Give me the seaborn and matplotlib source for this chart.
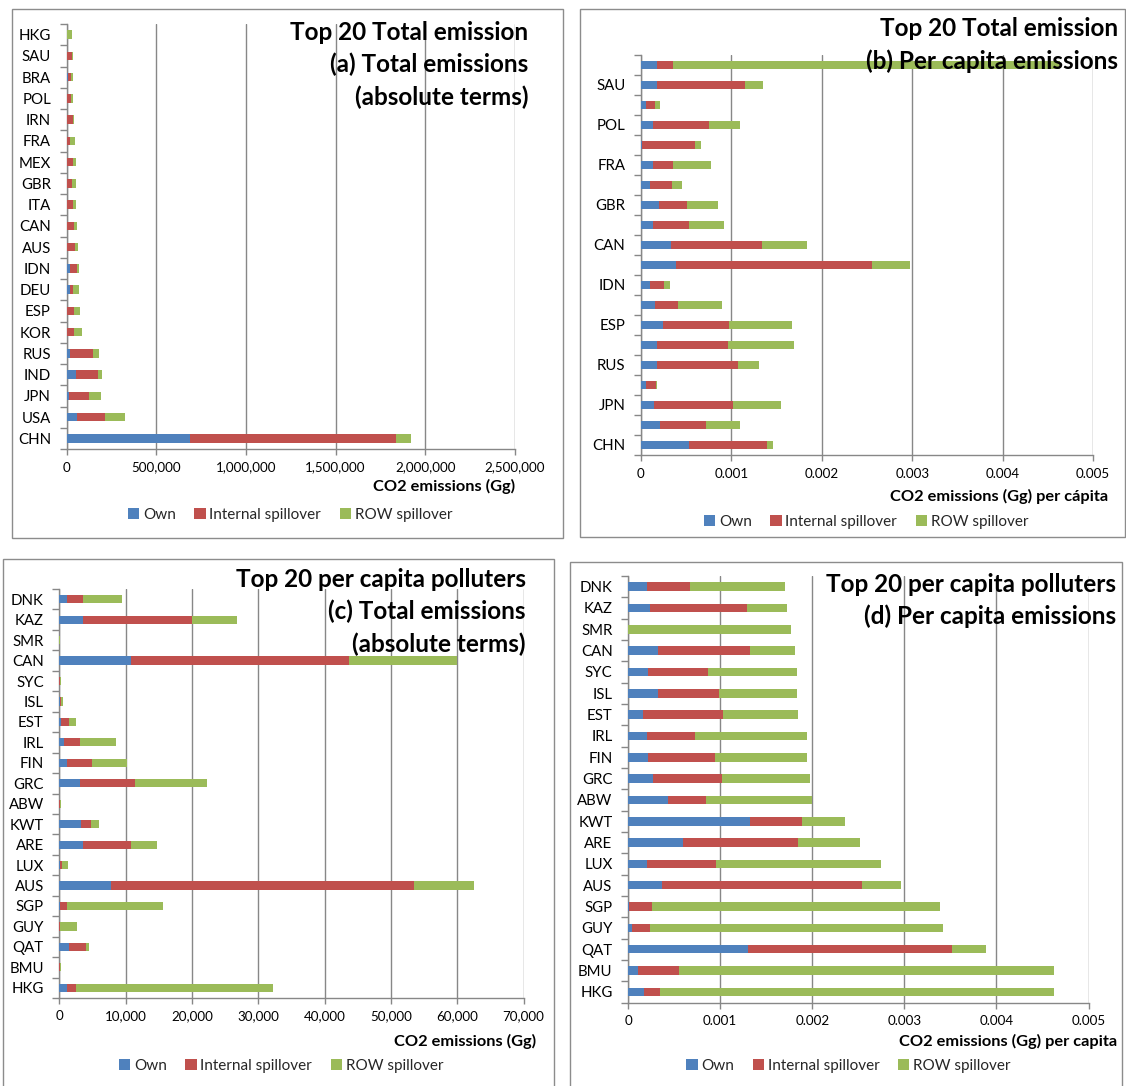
import numpy as np
import pandas as pd
import matplotlib
matplotlib.use("Agg")
import matplotlib.pyplot as plt
from matplotlib.patches import Rectangle, Patch
from matplotlib.ticker import FuncFormatter, MultipleLocator, FixedLocator
import seaborn as sns

# ---------------- DATA (listed bottom -> top as in the chart) ----------------
countries_total = ["CHN", "USA", "JPN", "IND", "RUS", "KOR", "ESP", "DEU", "IDN", "AUS",
                   "CAN", "ITA", "GBR", "MEX", "FRA", "IRN", "POL", "BRA", "SAU", "HKG"]

# (a) Total emissions, Gg
a_own = [686500, 58000, 14000, 52000, 22000, 3000, 3000, 18000, 22000, 3000,
         2000, 2000, 2000, 2000, 2000, 1000, 1000, 8000, 1000, 1000]
a_internal = [1150500, 155000, 111000, 123000, 127000, 39000, 39000, 16000, 36000, 47000,
              40000, 32000, 26000, 34000, 20000, 35000, 25000, 18000, 27000, 2000]
a_row = [83000, 113000, 70000, 22000, 34000, 42000, 36000, 36000, 12000, 14000,
         16000, 18000, 24000, 16000, 24000, 8000, 12000, 12000, 6000, 29000]

# (b) Per capita emissions, Gg per capita
b_own = [0.000532, 0.000210, 0.000148, 0.000050, 0.000175, 0.000175, 0.000245, 0.000159, 0.000100, 0.000384,
         0.000334, 0.000132, 0.000198, 0.000100, 0.000132, 0.000010, 0.000132, 0.000058, 0.000182, 0.000182]
b_internal = [0.000866, 0.000508, 0.000865, 0.000113, 0.000900, 0.000784, 0.000729, 0.000249, 0.000156, 0.002170,
              0.001001, 0.000396, 0.000307, 0.000242, 0.000221, 0.000584, 0.000617, 0.000101, 0.000967, 0.000171]
b_row = [0.000065, 0.000382, 0.000536, 0.000012, 0.000225, 0.000737, 0.000699, 0.000485, 0.000066, 0.000420,
         0.000501, 0.000388, 0.000349, 0.000116, 0.000416, 0.000074, 0.000342, 0.000051, 0.000202, 0.004282]

countries_pc = ["HKG", "BMU", "QAT", "GUY", "SGP", "AUS", "LUX", "ARE", "KWT", "ABW",
                "GRC", "FIN", "IRL", "EST", "ISL", "SYC", "CAN", "SMR", "KAZ", "DNK"]

# (c) Total emissions, Gg
c_own = [1130, 20, 1460, 30, 50, 7870, 100, 3500, 3340, 30,
         3180, 1130, 760, 320, 80, 30, 10790, 10, 3610, 1130]
c_internal = [1350, 40, 2590, 70, 1080, 45690, 330, 7290, 1460, 30,
              8250, 3830, 2370, 1140, 190, 70, 32950, 10, 16450, 2430]
c_row = [29670, 160, 430, 2600, 14510, 9010, 810, 3880, 1240, 260,
         10850, 5290, 5450, 1020, 320, 220, 16290, 60, 6800, 5880]

# (d) Per capita emissions, Gg per capita
d_own = [0.000175, 0.000112, 0.001300, 0.000047, 0.000005, 0.000372, 0.000206, 0.000601, 0.001319, 0.000434,
         0.000275, 0.000213, 0.000206, 0.000159, 0.000322, 0.000221, 0.000322, 0.0, 0.000237, 0.000202]
d_internal = [0.000170, 0.000439, 0.002218, 0.000190, 0.000255, 0.002169, 0.000752, 0.001245, 0.000570, 0.000416,
              0.000741, 0.000730, 0.000519, 0.000873, 0.000663, 0.000648, 0.000997, 0.0, 0.001055, 0.000469]
d_row = [0.004283, 0.004077, 0.000372, 0.003188, 0.003126, 0.000423, 0.001784, 0.000668, 0.000462, 0.001152,
         0.000958, 0.001000, 0.001218, 0.000810, 0.000846, 0.000962, 0.000496, 0.001769, 0.000430, 0.001036]

series_names = ["Own", "Internal spillover", "ROW spillover"]
colors = ["#4F81BD", "#C0504D", "#9BBB59"]

# ---------------- STYLE ----------------
sns.set_theme(style="white")
plt.rcParams["font.family"] = ["Lato", "DejaVu Sans"]
GRAY = "#878787"
W, H = 1126, 1086

fig = plt.figure(figsize=(W / 100, H / 100), dpi=100)
fig.patch.set_facecolor("white")


def fx(px):
    return px / W


def fy(py):
    return 1 - py / H


def make_panel(rect_px, countries, own, internal, row, xmax, xstep, fmt,
               title_lines, title_x, title_ys, xlabel, xlabel_pos, legend_pos,
               label_every=1):
    left, right, top, bottom = rect_px
    ax = fig.add_axes([fx(left), fy(bottom), fx(right - left), (bottom - top) / H])
    df = pd.DataFrame({"country": countries, "own": own, "internal": internal, "row": row})
    df["c1"] = df["own"]
    df["c2"] = df["own"] + df["internal"]
    df["c3"] = df["c2"] + df["row"]
    order = list(countries)[::-1]  # top -> bottom
    for col, colr in zip(["c3", "c2", "c1"], colors[::-1]):
        sns.barplot(data=df, x=col, y="country", order=order, color=colr,
                    saturation=1, width=0.4, orient="h", linewidth=0, ax=ax, zorder=3)
    n = len(countries)
    ax.set_ylim(n - 0.5, -0.5)
    ax.set_xlim(0, xmax)
    ax.set_xlabel("")
    ax.set_ylabel("")
    ax.xaxis.set_major_locator(MultipleLocator(xstep))
    ax.xaxis.set_major_formatter(FuncFormatter(fmt))
    ax.grid(False)
    ax.xaxis.grid(True, color=GRAY, lw=1.0, zorder=0)
    ax.set_axisbelow(True)
    for s in ["top", "right"]:
        ax.spines[s].set_visible(False)
    for s in ["left", "bottom"]:
        ax.spines[s].set_color(GRAY)
        ax.spines[s].set_linewidth(1.0)
    ax.set_yticks(range(n))
    labels = []
    for j, c in enumerate(order):
        bi = n - 1 - j
        labels.append(c if bi % label_every == 0 else "")
    ax.set_yticklabels(labels)
    ax.yaxis.set_minor_locator(FixedLocator(np.arange(-0.5, n, 1.0)))
    ax.tick_params(axis="y", which="major", length=0, pad=11.2, labelsize=10.8, labelcolor="black")
    ax.tick_params(axis="y", which="minor", length=5, width=1, color=GRAY, direction="out", left=True)
    ax.tick_params(axis="x", which="major", length=4, width=1, color=GRAY, direction="out",
                   bottom=True, pad=5, labelsize=9.6, labelcolor="black")
    for k, line in enumerate(title_lines):
        fig.text(fx(title_x), fy(title_ys[k]), line, ha="right", va="center",
                 fontsize=17.5, fontweight="bold", color="black", zorder=10)
    fig.text(fx(xlabel_pos[0]), fy(xlabel_pos[1]), xlabel, ha="right", va="center",
             fontsize=11.8, fontweight="bold", color="black")
    handles = [Patch(facecolor=c, edgecolor="none", label=l) for c, l in zip(colors, series_names)]
    fig.legend(handles=handles, loc="center", bbox_to_anchor=(fx(legend_pos[0]), fy(legend_pos[1])),
               ncol=3, frameon=False, fontsize=11, handlelength=0.75, handleheight=0.75,
               handletextpad=0.25, columnspacing=1.2, borderpad=0, borderaxespad=0)
    return ax


def fmt_int(v, p):
    return f"{int(round(v)):,}"


def fmt_pc(v, p):
    return "0" if abs(v) < 1e-12 else f"{v:.3f}"


# panel boxes
for (x0, y0, x1, y1) in [(12, 9, 563, 538), (580, 9, 1125, 537), (3, 559, 554, 1092), (570, 562, 1122, 1092)]:
    fig.add_artist(Rectangle((fx(x0), fy(y1)), fx(x1 - x0), (y1 - y0) / H, transform=fig.transFigure,
                             fill=False, edgecolor="#8c8c8c", lw=1.0))

make_panel((66.5, 515, 24, 449), countries_total, a_own, a_internal, a_row,
           2500000, 500000, fmt_int,
           ["Top 20 Total emission", "(a) Total emissions", "(absolute terms)"], 528.5, [32, 64, 97.5],
           "CO2 emissions (Gg)", (515, 486), (290, 515))

make_panel((641, 1093, 55, 455), countries_total, b_own, b_internal, b_row,
           0.005, 0.001, fmt_pc,
           ["Top 20 Total emission", "(b) Per capita emissions"], 1118.5, [28.6, 61.3],
           "CO2 emissions (Gg) per cápita", (1108.5, 496), (866, 521.7), label_every=2)

make_panel((59.3, 523.5, 589, 998), countries_pc, c_own, c_internal, c_row,
           70000, 10000, fmt_int,
           ["Top 20 per capita polluters", "(c) Total emissions", "(absolute terms)"], 526, [579.7, 611.5, 644.7],
           "CO2 emissions (Gg)", (535.7, 1041), (281, 1066))

make_panel((628.1, 1088.5, 576, 1002.5), countries_pc, d_own, d_internal, d_row,
           0.005, 0.001, fmt_pc,
           ["Top 20 per capita polluters", "(d) Per capita emissions"], 1116, [584.8, 616.6],
           "CO2 emissions (Gg) per capita", (1117, 1041.6), (848.5, 1066))

fig.savefig("out.png", dpi=100, facecolor="white")
